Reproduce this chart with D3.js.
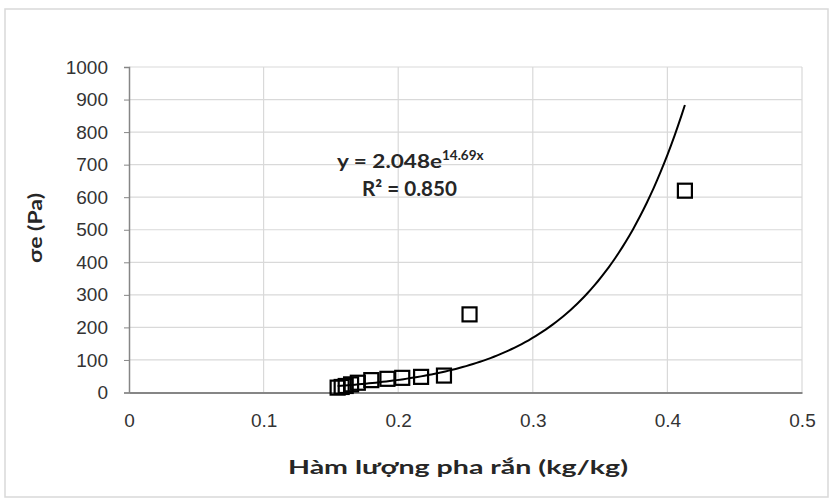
<!DOCTYPE html>
<html>
<head>
<meta charset="utf-8">
<script src="https://cdn.jsdelivr.net/npm/d3@7"></script>
<style>
  body { margin: 0; background: #fff; }
  svg { font-family: Lato, "Open Sans", sans-serif; }
</style>
</head>
<body>
<svg id="chart" width="833" height="502"></svg>
<script>
// measured values
var solidContent = [0.155, 0.158, 0.161, 0.165, 0.170, 0.180, 0.192, 0.203, 0.217, 0.234, 0.253, 0.413];
var yieldStress = [15, 17, 20, 25, 30, 38, 42, 45, 48, 52, 240, 620];
var xTicks = [0, 0.1, 0.2, 0.3, 0.4, 0.5];
var yTicks = [0, 100, 200, 300, 400, 500, 600, 700, 800, 900, 1000];
// exponential trendline y = a * e^(b x)
var trendA = 2.048, trendB = 14.69;

var svg = d3.select("#chart");
var width = 833, height = 502;
var margin = { left: 129, right: 31, top: 67, bottom: 109.5 };

// outer chart border
svg.append("rect")
    .attr("x", 5).attr("y", 9)
    .attr("width", 823).attr("height", 488)
    .attr("fill", "#fff")
    .attr("stroke", "#d9d9d9")
    .attr("stroke-width", 1.5);

var x = d3.scaleLinear().domain([0, 0.5]).range([margin.left, width - margin.right]);
var y = d3.scaleLinear().domain([0, 1000]).range([height - margin.bottom, margin.top]);

// gridlines
svg.append("g").selectAll("line")
    .data(yTicks.slice(1))
    .enter().append("line")
    .attr("x1", x(0)).attr("x2", x(0.5))
    .attr("y1", d => y(d)).attr("y2", d => y(d))
    .attr("stroke", "#d9d9d9").attr("stroke-width", 1.2);

svg.append("g").selectAll("line")
    .data(xTicks.slice(1))
    .enter().append("line")
    .attr("x1", d => x(d)).attr("x2", d => x(d))
    .attr("y1", y(0)).attr("y2", y(1000))
    .attr("stroke", "#d9d9d9").attr("stroke-width", 1.2);

// axes
var yAxis = svg.append("g")
    .attr("transform", "translate(" + x(0) + ",0)")
    .call(d3.axisLeft(y).tickValues(yTicks).tickSize(5).tickPadding(16).tickFormat(d3.format("d")));
yAxis.select(".domain").attr("stroke", "#868686").attr("stroke-width", 1.5);
yAxis.selectAll(".tick line").attr("stroke", "#868686");
yAxis.selectAll("text").style("font-size", "19px").attr("fill", "#333");

var xAxis = svg.append("g")
    .attr("transform", "translate(0," + y(0) + ")")
    .call(d3.axisBottom(x).tickValues(xTicks).tickSize(0).tickPadding(21).tickFormat(d => d === 0 ? "0" : d3.format(".1f")(d)));
xAxis.select(".domain").attr("stroke", "#868686").attr("stroke-width", 2);
xAxis.selectAll("text").style("font-size", "19px").attr("fill", "#333");

// trendline from min to max of data
var xMin = d3.min(solidContent), xMax = d3.max(solidContent);
var trendX = d3.range(0, 101).map(i => xMin + (xMax - xMin) * i / 100);
var line = d3.line()
    .x(d => x(d))
    .y(d => y(trendA * Math.exp(trendB * d)));
svg.append("path")
    .datum(trendX)
    .attr("d", line)
    .attr("fill", "none")
    .attr("stroke", "#000")
    .attr("stroke-width", 2);

// markers
var pts = solidContent.map((d, i) => ({ x: d, y: yieldStress[i] }));
var sz = 14;
svg.append("g").selectAll("rect")
    .data(pts)
    .enter().append("rect")
    .attr("x", d => x(d.x) - sz / 2)
    .attr("y", d => y(d.y) - sz / 2)
    .attr("width", sz).attr("height", sz)
    .attr("fill", "none")
    .attr("stroke", "#000")
    .attr("stroke-width", 2.2);

// equation labels
var eq = svg.append("text")
    .attr("x", 337).attr("y", 168)
    .style("font-size", "19px").style("font-weight", "bold")
    .attr("fill", "#262626");
eq.append("tspan").attr("textLength", 105).attr("lengthAdjust", "spacingAndGlyphs").text("y = 2.048e");
eq.append("tspan").attr("dy", -8).style("font-size", "13.5px").text(trendB.toFixed(2) + "x");

svg.append("text")
    .attr("x", 362).attr("y", 196)
    .attr("textLength", 95).attr("lengthAdjust", "spacingAndGlyphs")
    .style("font-size", "20px").style("font-weight", "bold")
    .attr("fill", "#262626")
    .text("R² = 0.850");

// axis titles
svg.append("text")
    .attr("x", 288).attr("y", 474)
    .attr("textLength", 340).attr("lengthAdjust", "spacingAndGlyphs")
    .style("font-size", "19px").style("font-weight", "bold")
    .attr("fill", "#262626")
    .text("Hàm lượng pha rắn (kg/kg)");

svg.append("text")
    .attr("transform", "translate(42,228) rotate(-90)")
    .attr("x", -35)
    .attr("textLength", 70).attr("lengthAdjust", "spacingAndGlyphs")
    .style("font-size", "19px").style("font-weight", "bold")
    .attr("fill", "#262626")
    .text("σe (Pa)");
</script>
</body>
</html>
